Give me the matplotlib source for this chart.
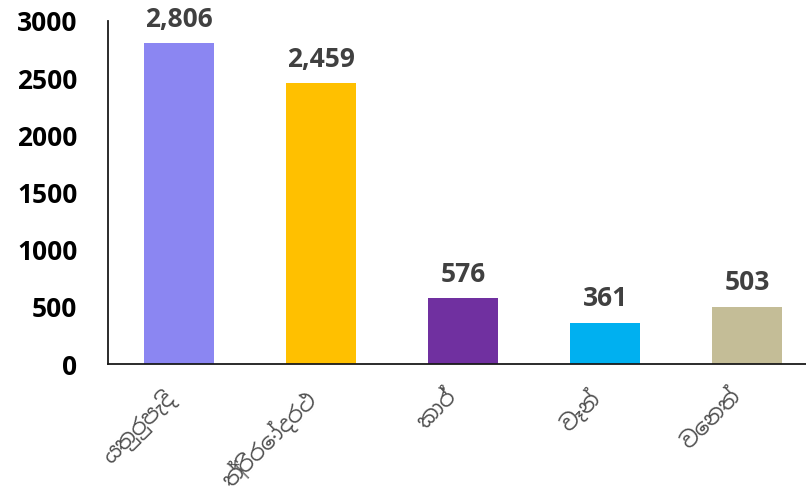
import numpy as np
import matplotlib
matplotlib.use("Agg")
import matplotlib.pyplot as plt

plt.rcParams['font.family'] = ['Open Sans', 'DejaVu Sans']

categories = ['යතුරුපැදි', 'ත්‍රිරෝදරථ', 'කාර්', 'වෑන්', 'වෙනත්']
values = [2806, 2459, 576, 361, 503]
colors = ['#8B86F2', '#FFC000', '#7030A0', '#00B0F0', '#C4BD97']

fig = plt.figure(figsize=(8.06, 4.95), dpi=100)
# axes runs a little past the right edge of the figure, as in the original
ax = fig.add_axes([0.134, 0.2646, 0.881, 0.693])

x = np.arange(len(values))
bars = ax.bar(x, values, width=0.49, color=colors)

for xi, v in zip(x, values):
    ax.text(xi, v + 90, f'{v:,}', ha='center', va='bottom', fontsize=19,
            fontweight='bold', color='#404040', clip_on=False)

ax.set_xlim(-0.5, 4.5)
ax.set_ylim(0, 3000)
ax.set_yticks([0, 500, 1000, 1500, 2000, 2500, 3000])
# ticks are invisible; put the rotated labels a touch left of the bar centres
ax.set_xticks(x - 0.12)
ax.set_xticklabels(categories, rotation=45, ha='right', rotation_mode='anchor',
                   fontsize=16, color='#505050',
                   family=['Noto Sans Sinhala', 'Abhaya Libre', 'DejaVu Sans'])
for lbl in ax.get_yticklabels():
    lbl.set_fontsize(19)
    lbl.set_fontweight('bold')
    lbl.set_color('#000000')

for s in ['top', 'right']:
    ax.spines[s].set_visible(False)
for s in ['bottom', 'left']:
    ax.spines[s].set_color('#1a1a1a')
    ax.spines[s].set_linewidth(1.3)
ax.tick_params(axis='both', length=0)
ax.tick_params(axis='y', pad=22)
ax.tick_params(axis='x', pad=16)

fig.savefig('out.png', dpi=100)
